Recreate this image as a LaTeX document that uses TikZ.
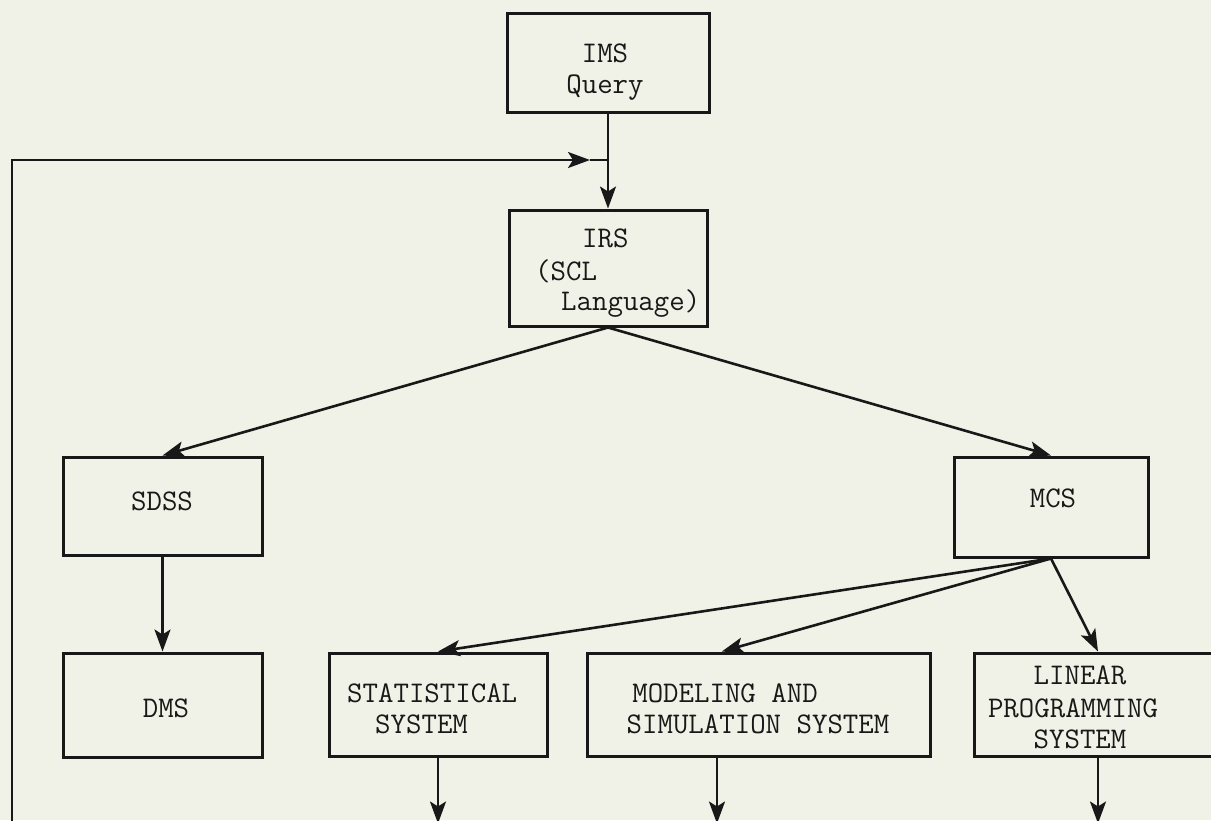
\documentclass[tikz,border=0pt]{standalone}
\usetikzlibrary{arrows.meta,calc}
\definecolor{paper}{RGB}{241,242,231}
\definecolor{ink}{RGB}{24,24,24}
\tikzset{
  blk/.style={draw=ink, line width=3pt, inner sep=0pt},
  lbl/.style={text=ink, inner sep=0pt, font=\fontsize{30}{32}\selectfont\ttfamily},
  link/.style={draw=ink, line width=2.6pt},
  arr/.style={link, -{Stealth[length=22pt,width=16pt,inset=5pt]}},
}
\begin{document}
\begin{tikzpicture}[x=1pt,y=-1pt]
\useasboundingbox (0,0) rectangle (1211,820);
\fill[paper] (0,0) rectangle (1211,820);
\clip (0,0) rectangle (1211,820);

% boxes
\node[blk, minimum width=202pt, minimum height=99pt]  (ims)   at (608,62.5)  {};
\node[blk, minimum width=198pt, minimum height=116pt] (irs)   at (608,268)   {};
\node[blk, minimum width=199pt, minimum height=98pt]  (sdss)  at (162.5,506) {};
\node[blk, minimum width=199pt, minimum height=104pt] (dms)   at (162.5,705) {};
\node[blk, minimum width=194pt, minimum height=100pt] (mcs)   at (1051,507)  {};
\node[blk, minimum width=218pt, minimum height=103pt] (stat)  at (438,704.5) {};
\node[blk, minimum width=343pt, minimum height=103pt] (model) at (758.5,704.5) {};
\node[blk, minimum width=248pt, minimum height=103pt] (lin)   at (1098,704.5) {};

% box texts
\node[lbl, anchor=base] (imsA) at (605,62) {IMS};
\node[lbl, anchor=base] (imsB) at (605,93) {Query};
\node[lbl, anchor=base west] (irsA) at (582,247) {IRS};
\node[lbl, anchor=base west] (irsB) at (535,280) {(SCL};
\node[lbl, anchor=base west] (irsC) at (561,310) {Language)};
\node[lbl, anchor=base] (sdssT) at (162,510) {SDSS};
\node[lbl, anchor=base] (dmsT) at (166,717) {DMS};
\node[lbl, anchor=base] (mcsT) at (1053,507) {MCS};
\node[lbl, anchor=base west] (statA) at (347,702) {STATISTICAL};
\node[lbl, anchor=base west] (statB) at (375,733) {SYSTEM};
\node[lbl, anchor=base] (modelA) at (725,702) {MODELING AND};
\node[lbl, anchor=base] (modelB) at (758,733) {SIMULATION SYSTEM};
\node[lbl, anchor=base] (linA) at (1080,684) {LINEAR};
\node[lbl, anchor=base] (linB) at (1073,717) {PROGRAMMING};
\node[lbl, anchor=base] (linC) at (1080,748) {SYSTEM};

% main flow
\draw[arr] (ims.south) -- (irs.north);
\draw[arr] (irs.south) -- (sdss.north);
\draw[arr] (irs.south) -- (mcs.north);
\draw[arr] (sdss.south) -- (dms.north);
\draw[arr] (mcs.south) -- (stat.north);
\draw[arr] (mcs.south) -- ($(model.north west)!0.394!(model.north east)$);
\draw[arr] (mcs.south) -- (lin.north);

% outputs leaving the bottom
\coordinate (statout)  at ($(stat.south)+(0,66)$);
\coordinate (modelsrc) at ($(model.south west)!0.38!(model.south east)$);
\coordinate (modelout) at ($(modelsrc)+(0,66)$);
\coordinate (linout)   at ($(lin.south)+(0,66)$);
\draw[arr] (stat.south) -- (statout);
\draw[arr] (modelsrc) -- (modelout);
\draw[arr] (lin.south) -- (linout);

% feedback loop into the query line
\coordinate (fbstart) at (12,822);
\coordinate (fbtip)   at (590,160);
\coordinate (fbjoin)  at (ims.south |- fbtip);
\draw[arr] (fbstart) |- (fbtip);
\draw[link] (fbtip) -- (fbjoin);
\end{tikzpicture}
\end{document}
